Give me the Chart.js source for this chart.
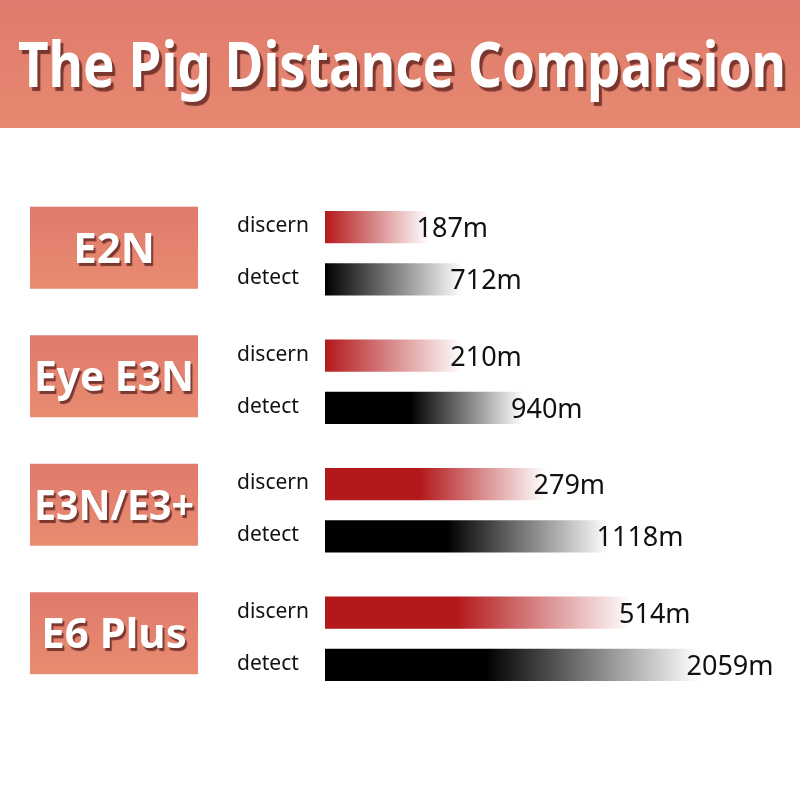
<!DOCTYPE html>
<html>
<head>
<meta charset="utf-8">
<script src="https://cdn.jsdelivr.net/npm/chart.js@4.4.1/dist/chart.umd.min.js"></script>
<style>
  html, body { margin: 0; padding: 0; background: #fff; }
  #chart { display: block; }
</style>
</head>
<body>
<canvas id="chart" width="800" height="800"></canvas>
<script>
// data
const title = 'The Pig Distance Comparsion';
const groups = ['E2N', 'Eye E3N', 'E3N/E3+', 'E6 Plus'];
const seriesNames = ['discern', 'detect'];
const discernMeters = [187, 210, 279, 514];
const detectMeters = [712, 940, 1118, 2059];
// drawn bar length in % of the track (bars are not to scale)
const discernLength = [23, 30.5, 49, 68];
const detectLength = [30.5, 44, 63, 83];

const FONT = '"Noto Sans", "Open Sans", sans-serif';

// bar fill: solid colour, then fade to white towards the bar end
function fadeFill(rgb) {
  return function (ctx) {
    const chart = ctx.chart;
    const area = chart.chartArea;
    if (!area || ctx.raw == null) return 'rgb(' + rgb + ')';
    const x0 = area.left;
    const x1 = chart.scales.x.getPixelForValue(ctx.raw);
    const g = chart.ctx.createLinearGradient(x0, 0, x1, 0);
    g.addColorStop(0, 'rgb(' + rgb + ')');
    if (x1 - x0 > 160) g.addColorStop(0.43, 'rgb(' + rgb + ')');
    g.addColorStop(1, 'rgb(255,255,255)');
    return g;
  };
}

const decor = {
  id: 'decor',
  beforeDraw(chart) {
    const c = chart.ctx;
    const W = chart.width;
    c.save();
    c.fillStyle = '#fff';
    c.fillRect(0, 0, W, chart.height);

    // banner
    let g = c.createLinearGradient(0, 0, 0, 128);
    g.addColorStop(0, '#e07a6c');
    g.addColorStop(1, '#e68971');
    c.fillStyle = g;
    c.fillRect(0, 0, W, 128);

    c.shadowColor = 'rgba(95,35,30,0.8)';
    c.shadowOffsetX = 3;
    c.shadowOffsetY = 4;
    c.shadowBlur = 1;
    c.fillStyle = '#fff';
    c.font = 'bold 62px ' + FONT;
    c.textAlign = 'center';
    c.textBaseline = 'alphabetic';
    c.fillText(title, 402, 87, 768);

    // group boxes
    const y = chart.scales.y;
    groups.forEach(function (name, i) {
      const cy = y.getPixelForValue(i) - 5.5;
      c.shadowColor = 'transparent';
      const bg = c.createLinearGradient(0, cy - 41, 0, cy + 41);
      bg.addColorStop(0, '#e07a6c');
      bg.addColorStop(1, '#e88c71');
      c.fillStyle = bg;
      c.fillRect(30, cy - 41, 168, 82);

      c.shadowColor = 'rgba(95,35,30,0.8)';
      c.shadowOffsetX = 2;
      c.shadowOffsetY = 3;
      c.fillStyle = '#fff';
      c.font = 'bold 42px ' + FONT;
      c.fillText(name, 114, cy + 15, 160);
    });
    c.restore();
  },
  afterDatasetsDraw(chart) {
    const c = chart.ctx;
    c.save();
    const meters = [discernMeters, detectMeters];
    chart.data.datasets.forEach(function (ds, d) {
      const meta = chart.getDatasetMeta(d);
      meta.data.forEach(function (bar, i) {
        // series name on the left of each bar
        c.fillStyle = '#111';
        c.font = '21px ' + FONT;
        c.textAlign = 'left';
        c.textBaseline = 'middle';
        c.fillText(seriesNames[d], 237, bar.y - 1);
        // distance at the bar end
        c.font = '27px ' + FONT;
        c.textBaseline = 'alphabetic';
        c.fillText(meters[d][i] + 'm', bar.x - 12, bar.y + 10);
      });
    });
    c.restore();
  }
};

new Chart(document.getElementById('chart'), {
  type: 'bar',
  data: {
    labels: groups,
    datasets: [
      { label: seriesNames[0], data: discernLength, backgroundColor: fadeFill('179,25,27') },
      { label: seriesNames[1], data: detectLength, backgroundColor: fadeFill('0,0,0') }
    ]
  },
  options: {
    indexAxis: 'y',
    responsive: false,
    animation: false,
    categoryPercentage: 0.8125,
    barPercentage: 0.615,
    borderWidth: 0,
    layout: { padding: { left: 325, right: 25, top: 189, bottom: 97 } },
    scales: {
      x: { display: false, min: 0, max: 100 },
      y: { display: false, grid: { display: false } }
    },
    plugins: {
      legend: { display: false },
      tooltip: { enabled: false }
    }
  },
  plugins: [decor]
});
</script>
</body>
</html>
